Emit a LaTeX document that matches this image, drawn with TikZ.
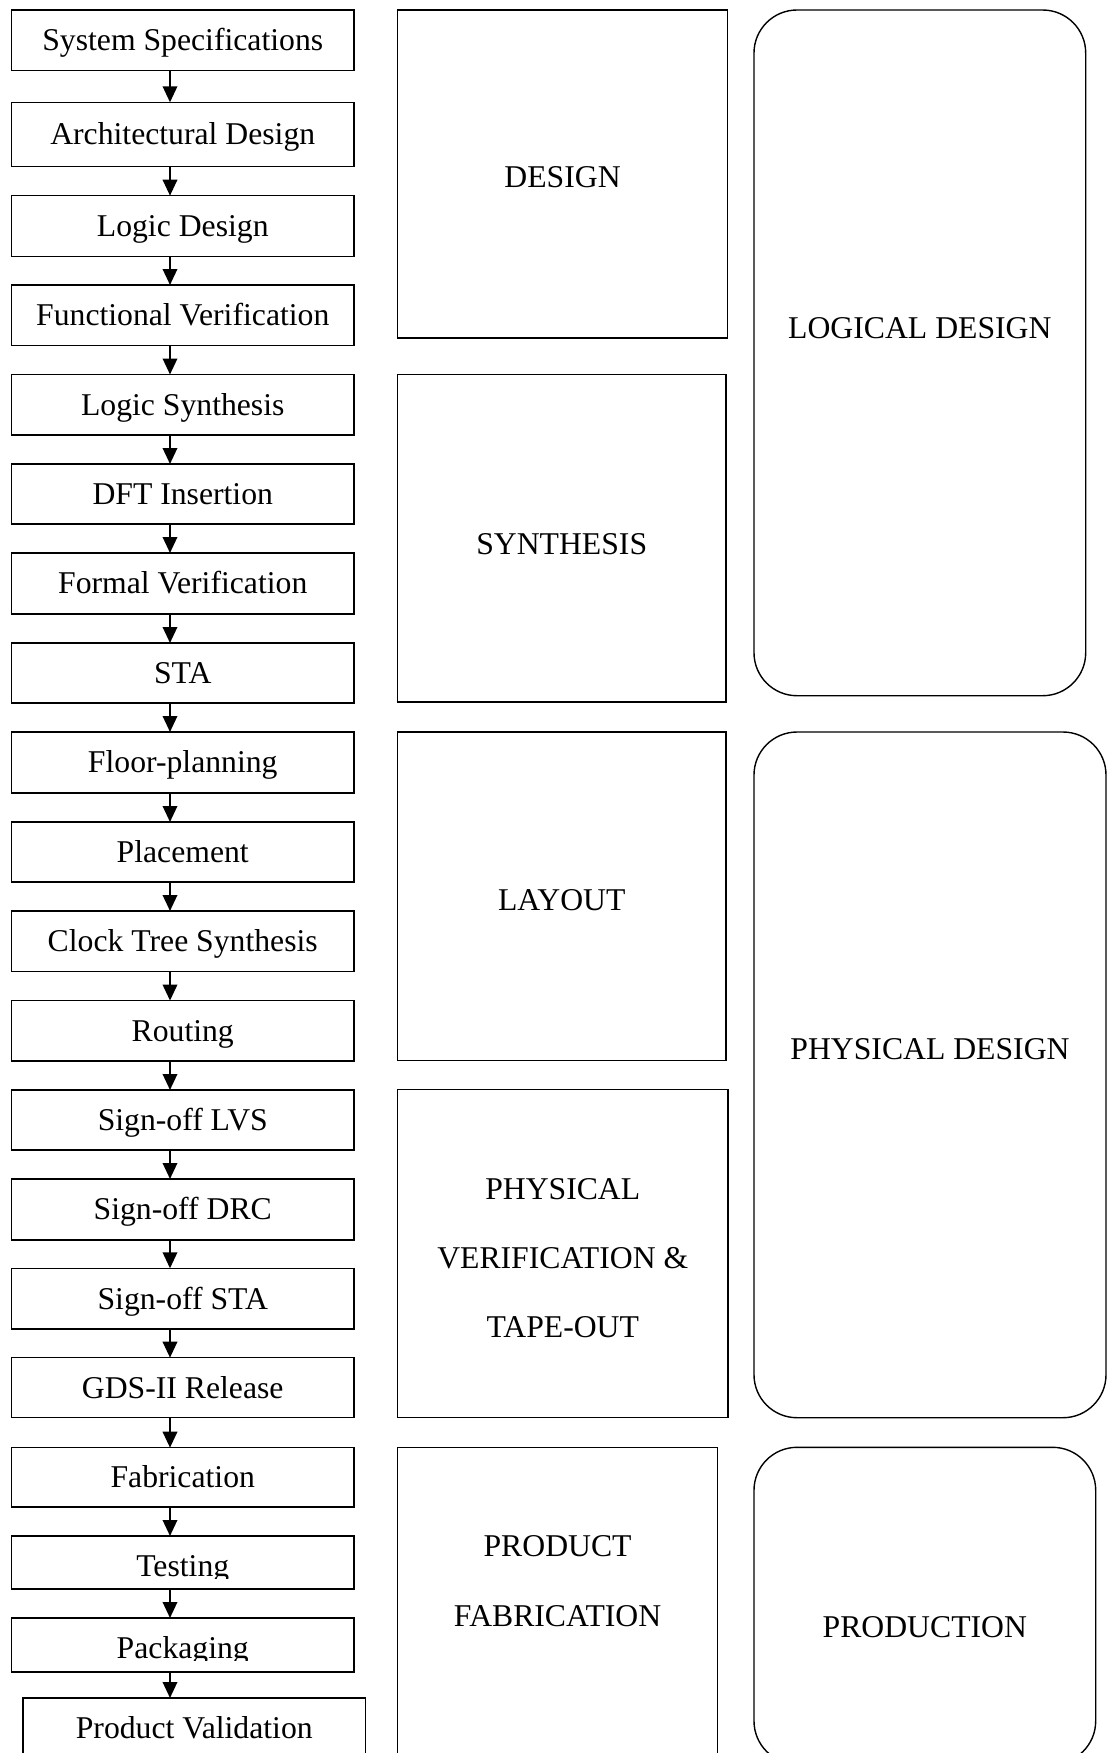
\documentclass[tikz,border=0pt]{standalone}
\usepackage{fontspec}
\setmainfont{Liberation Serif}
\usetikzlibrary{arrows.meta}
\begin{document}
\begin{tikzpicture}[x=0.5pt,y=-0.5pt,
  lbl/.style={font=\fontsize{15.85pt}{19pt}\selectfont, inner sep=0pt, outer sep=0pt},
  stepbox/.style={draw, line width=0.75pt, rectangle, minimum width=171.25pt, inner sep=0pt, outer sep=0pt,
    font=\fontsize{15.85pt}{19pt}\selectfont, text height=10.4pt, text depth=0pt},
  phasebox/.style={draw, line width=0.7pt, rectangle, inner sep=0pt, outer sep=0pt},
  groupbox/.style={draw, line width=0.7pt, rectangle, rounded corners=21.5pt, inner sep=0pt, outer sep=0pt},
  flow/.style={line width=1.1pt, -{Triangle[length=8pt,width=7.2pt]}}]
\useasboundingbox (0,0) rectangle (1109,1753);
\fill[white] (0,0) rectangle (1109,1753);
\clip (0,0) rectangle (1109,1753);

% left column steps
\node[stepbox, minimum height=30.35pt] (s1)  at (182.75,40.35)   {System Specifications};
\node[stepbox, minimum height=32.2pt]  (s2)  at (182.75,134.5)   {Architectural Design};
\node[stepbox, minimum height=30.5pt]  (s3)  at (182.75,226.2)   {Logic Design};
\node[stepbox, minimum height=30.25pt] (s4)  at (182.75,315.25)  {Functional Verification};
\node[stepbox, minimum height=30.25pt] (s5)  at (182.75,404.75)  {Logic Synthesis};
\node[stepbox, minimum height=30pt]    (s6)  at (182.75,494)     {DFT Insertion};
\node[stepbox, minimum height=30.5pt]  (s7)  at (182.75,583.5)   {Formal Verification};
\node[stepbox, minimum height=30pt]    (s8)  at (182.75,673)     {STA};
\node[stepbox, minimum height=30.5pt]  (s9)  at (182.75,762.5)   {Floor-planning};
\node[stepbox, minimum height=30pt]    (s10) at (182.75,852)     {Placement};
\node[stepbox, minimum height=30.25pt] (s11) at (182.75,941.25)  {Clock Tree Synthesis};
\node[stepbox, minimum height=30.2pt]  (s12) at (182.75,1030.8)  {Routing};
\node[stepbox, minimum height=30pt]    (s13) at (182.75,1120)    {Sign-off LVS};
\node[stepbox, minimum height=30.5pt]  (s14) at (182.75,1209.5)  {Sign-off DRC};
\node[stepbox, minimum height=30.35pt] (s15) at (182.75,1298.65) {Sign-off STA};
\node[stepbox, minimum height=30pt]    (s16) at (182.75,1387.7)  {GDS-II Release};
\node[stepbox, minimum height=29.65pt] (s17) at (182.75,1477.35) {Fabrication};
\node[stepbox, minimum height=26.5pt]  (s18) at (182.75,1562.5)  {};
\node[stepbox, minimum height=27pt]    (s19) at (182.75,1645)    {};
\node[stepbox, minimum height=36pt]    (s20) at (194.25,1734)    {};
\begin{scope}
  \clip (11.5,1536) rectangle (354,1578.5);
  \node[lbl, anchor=base] (t18) at (182.75,1576.7) {Testing};
\end{scope}
\begin{scope}
  \clip (11.5,1618) rectangle (354,1660.7);
  \node[lbl, anchor=base] (t19) at (182.75,1658.3) {Packaging};
\end{scope}
\node[lbl, anchor=base] (t20) at (194.25,1738.3) {Product Validation};

% connectors
\coordinate (ax) at (170,0);
\foreach \a/\b in {s1/s2,s2/s3,s3/s4,s4/s5,s5/s6,s6/s7,s7/s8,s8/s9,s9/s10,s10/s11,
                   s11/s12,s12/s13,s13/s14,s14/s15,s15/s16,s16/s17,s17/s18,s18/s19,s19/s20}
  \draw[flow] (\a.south -| ax) -- (\b.north -| ax);

% middle column phases
\node[phasebox, minimum width=165.1pt, minimum height=164pt]   (design) at (562.6,174)     {};
\node[phasebox, minimum width=164.25pt, minimum height=163.75pt] (synth) at (561.75,538.25) {};
\node[phasebox, minimum width=164.25pt, minimum height=164.15pt] (layout) at (561.75,896.15) {};
\node[phasebox, minimum width=165.25pt, minimum height=164.2pt] (pvt) at (562.75,1253.5) {};
\node[phasebox, minimum width=160.1pt, minimum height=166.35pt] (prodfab) at (557.6,1613.65) {};

\node[lbl, anchor=base] (ldesign) at (562.6,187) {DESIGN};
\node[lbl, anchor=base] (lsynth) at (561.75,554) {SYNTHESIS};
\node[lbl, anchor=base] (llayout) at (561.75,910.5) {LAYOUT};
\node[lbl, anchor=base] (lpvt1) at (562.75,1199) {PHYSICAL};
\node[lbl, anchor=base] (lpvt2) at (562.75,1268) {VERIFICATION \&};
\node[lbl, anchor=base] (lpvt3) at (562.75,1337.5) {TAPE-OUT};
\node[lbl, anchor=base] (lpf1) at (557.6,1556) {PRODUCT};
\node[lbl, anchor=base] (lpf2) at (557.6,1626.5) {FABRICATION};

% right column groups
\node[groupbox, minimum width=165.85pt, minimum height=342.85pt] (logical) at (919.85,352.85) {};
\node[groupbox, minimum width=176pt, minimum height=342.85pt] (physical) at (930,1074.85) {};
\node[groupbox, minimum width=170.85pt, minimum height=158.35pt] (production) at (924.85,1605.65) {};

\node[lbl, anchor=base] (llogical) at (919.85,338) {LOGICAL DESIGN};
\node[lbl, anchor=base] (lphysical) at (930,1059) {PHYSICAL DESIGN};
\node[lbl, anchor=base] (lproduction) at (924.85,1637) {PRODUCTION};
\end{tikzpicture}
\end{document}
